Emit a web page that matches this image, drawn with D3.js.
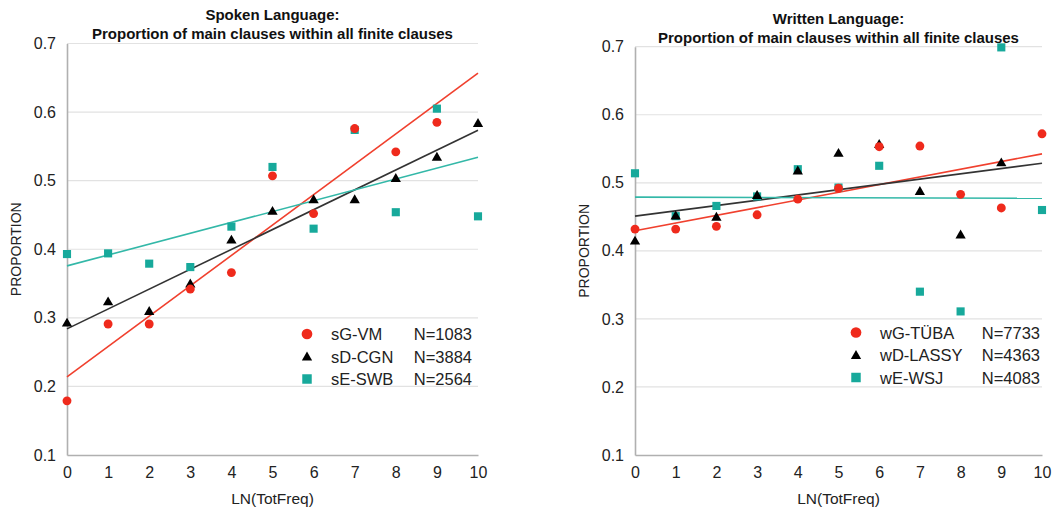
<!DOCTYPE html>
<html>
<head>
<meta charset="utf-8">
<script src="https://cdn.jsdelivr.net/npm/d3@7"></script>
<style>
    html, body { margin: 0; padding: 0; background: #fff; }
    svg { display: block; font-family: "Liberation Sans", Arial, Helvetica, sans-serif; }
</style>
</head>
<body>
<div id="chart"></div>
<script>
    "use strict";

    // x categories: LN(TotFreq) bins
    const xs = [0, 1, 2, 3, 4, 5, 6, 7, 8, 9, 10];
    const yTicks = [0.1, 0.2, 0.3, 0.4, 0.5, 0.6, 0.7];

    // spoken language (null = no point)
    const sG_VM = [0.179, 0.291, 0.291, 0.342, 0.366, 0.507, 0.452, 0.576, 0.542, 0.585, null];
    const sD_CGN = [0.293, 0.324, 0.310, 0.350, 0.414, 0.456, 0.473, 0.473, 0.504, 0.535, 0.584];
    const sE_SWB = [0.393, 0.394, 0.379, 0.374, 0.433, 0.520, 0.430, 0.574, 0.454, 0.605, 0.448];

    // written language
    const wG_TUBA = [0.432, 0.432, 0.436, 0.453, 0.476, 0.492, 0.553, 0.554, 0.483, 0.463, 0.572];
    const wD_LASSY = [0.415, 0.452, 0.450, 0.482, 0.518, 0.544, 0.557, 0.488, 0.424, 0.530, null];
    const wE_WSJ = [0.514, 0.451, 0.466, 0.480, 0.520, 0.493, 0.525, 0.340, 0.311, 0.699, 0.460];

    const spokenNames = ["sG-VM", "sD-CGN", "sE-SWB"];
    const spokenN = ["N=1083", "N=3884", "N=2564"];
    const writtenNames = ["wG-TÜBA", "wD-LASSY", "wE-WSJ"];
    const writtenN = ["N=7733", "N=4363", "N=4083"];

    const red = "#ef2a1c",
        black = "#000",
        teal = "#17a99b";
    const lineColors = ["#f0402e", "#333", "#33b8a8"];
    const shapes = [d3.symbolCircle, d3.symbolTriangle, d3.symbolSquare];
    const fills = [red, black, teal];

    const W = 1062, H = 512;
    const svg = d3.select("#chart").append("svg")
        .attr("width", W).attr("height", H);

    // least squares fit over present points
    function fit(vals) {
        let pts = xs.map((x, i) => [x, vals[i]]).filter(p => p[1] != null);
        let mx = d3.mean(pts, p => p[0]), my = d3.mean(pts, p => p[1]);
        let sxy = d3.sum(pts, p => (p[0] - mx) * (p[1] - my));
        let sxx = d3.sum(pts, p => (p[0] - mx) * (p[0] - mx));
        let b = sxy / sxx;
        return x => my + b * (x - mx);
    }

    function panel(cfg) {
        let x = d3.scaleLinear().domain([0, 10]).range([cfg.x0, cfg.x1]);
        let y = d3.scaleLinear().domain([0.1, 0.7]).range([cfg.yb, cfg.yt]);
        let g = svg.append("g");

        // gridlines
        g.append("g").selectAll("line")
            .data(yTicks.slice(1))
            .join("line")
            .attr("x1", cfg.x0).attr("x2", cfg.x1)
            .attr("y1", d => y(d)).attr("y2", d => y(d))
            .attr("stroke", "#e2e2e2").attr("stroke-width", 1.2);

        // y axis
        let ya = g.append("g")
            .attr("transform", `translate(${cfg.x0},0)`)
            .call(d3.axisLeft(y).tickValues(yTicks).tickFormat(d3.format(".1f")).tickSize(0).tickPadding(11));
        ya.select(".domain").attr("stroke", "#b0b0b0").attr("stroke-width", 1.6);
        ya.selectAll("text").attr("font-size", 16).attr("fill", "#222")
            .attr("font-family", "Liberation Sans, Arial, sans-serif");

        // x axis
        let xa = g.append("g")
            .attr("transform", `translate(0,${cfg.yb})`)
            .call(d3.axisBottom(x).tickValues(xs).tickFormat(d3.format("d")).tickSize(0).tickPadding(12));
        xa.select(".domain").attr("stroke", "#b0b0b0").attr("stroke-width", 1.6);
        xa.selectAll("text").attr("font-size", 16).attr("fill", "#222")
            .attr("font-family", "Liberation Sans, Arial, sans-serif");

        // titles
        g.append("text")
            .attr("x", (cfg.x0 + cfg.x1) / 2).attr("y", cfg.titleY)
            .attr("text-anchor", "middle").attr("font-size", 15).attr("font-weight", "bold")
            .attr("fill", "#111")
            .text(cfg.title);
        g.append("text")
            .attr("x", (cfg.x0 + cfg.x1) / 2).attr("y", cfg.titleY + 19)
            .attr("text-anchor", "middle").attr("font-size", 15).attr("font-weight", "bold")
            .attr("fill", "#111")
            .text("Proportion of main clauses within all finite clauses");

        g.append("text")
            .attr("x", (cfg.x0 + cfg.x1) / 2).attr("y", 504)
            .attr("text-anchor", "middle").attr("font-size", 15.5).attr("fill", "#222")
            .text("LN(TotFreq)");

        g.append("text")
            .attr("transform", `translate(${cfg.ylabX},${(cfg.yt + cfg.yb) / 2}) rotate(-90)`)
            .attr("text-anchor", "middle").attr("font-size", 14).attr("fill", "#222")
            .text("PROPORTION");

        // trend lines
        cfg.series.forEach((s, i) => {
            let f = fit(s);
            g.append("line")
                .attr("x1", x(0)).attr("y1", y(f(0)))
                .attr("x2", x(10)).attr("y2", y(f(10)))
                .attr("stroke", lineColors[i]).attr("stroke-width", 1.6);
        });

        // points (teal first, red on top)
        cfg.drawOrder.forEach(i => {
            let s = cfg.series[i];
            g.append("g").selectAll("path")
                .data(xs.map((xv, j) => [xv, s[j]]).filter(p => p[1] != null))
                .join("path")
                .attr("transform", p => `translate(${x(p[0])},${y(p[1]) + (i === 1 ? 1 : 0)})`)
                .attr("d", d3.symbol().type(shapes[i]).size(i === 0 ? 62 : (i === 1 ? 46 : 66)))
                .attr("fill", fills[i]);
        });

        // legend
        let lg = g.append("g");
        cfg.names.forEach((nm, i) => {
            let ly = cfg.legY + i * 22.5;
            lg.append("path")
                .attr("transform", `translate(${cfg.legX},${ly + (i === 1 ? 1 : 0)})`)
                .attr("d", d3.symbol().type(shapes[i]).size(i === 0 ? 90 : (i === 1 ? 46 : 90)))
                .attr("fill", fills[i]);
            lg.append("text")
                .attr("x", cfg.legX + 24).attr("y", ly + 6)
                .attr("font-size", 16.5).attr("fill", "#222")
                .text(nm);
            lg.append("text")
                .attr("x", cfg.legNEnd).attr("y", ly + 6)
                .attr("text-anchor", "end")
                .attr("font-size", 16.5).attr("fill", "#222")
                .text(cfg.ns[i]);
        });
    }

    panel({
        x0: 67, x1: 478, yt: 43.5, yb: 455,
        titleY: 20, title: "Spoken Language:", ylabX: 21,
        series: [sG_VM, sD_CGN, sE_SWB], drawOrder: [2, 1, 0],
        names: spokenNames, ns: spokenN,
        legX: 307, legY: 334, legNEnd: 472
    });

    panel({
        x0: 635, x1: 1042, yt: 46.7, yb: 455,
        titleY: 23.5, title: "Written Language:", ylabX: 589,
        series: [wG_TUBA, wD_LASSY, wE_WSJ], drawOrder: [2, 1, 0],
        names: writtenNames, ns: writtenN,
        legX: 856, legY: 332.5, legNEnd: 1040
    });
</script>
</body>
</html>
